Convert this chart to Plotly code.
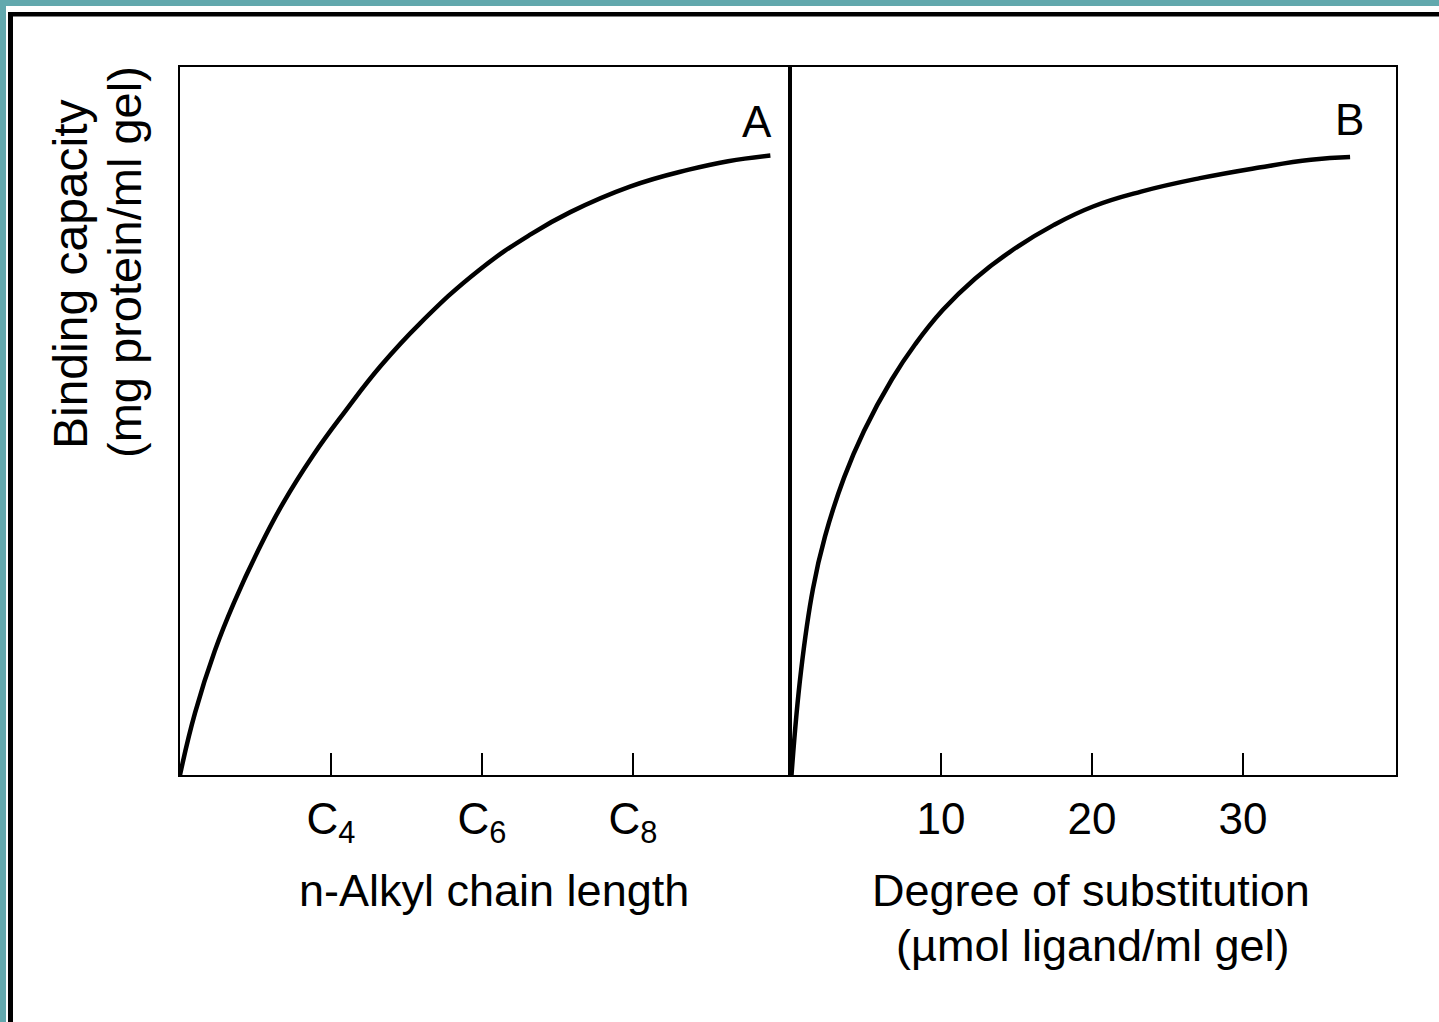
import plotly.graph_objects as go

# Panel A: binding capacity vs n-alkyl chain length (carbon number)
chain_length = [2.0, 2.2, 2.46, 2.73, 3.03, 3.36, 3.76, 4.19, 4.66, 5.18,
                5.96, 6.65, 7.17, 7.96, 8.74, 9.26, 9.82]
capacity_a = [0.0, 8.8, 17.5, 24.7, 31.6, 38.3, 45.1, 51.4, 57.8, 63.8,
              71.3, 76.4, 79.5, 83.1, 85.5, 86.7, 87.5]

# Panel B: binding capacity vs degree of substitution (umol ligand/ml gel)
substitution = [0.1, 0.73, 1.52, 2.32, 3.58, 4.9, 6.75, 8.28, 10.13, 12.25,
                14.57, 17.48, 20.07, 23.25, 27.15, 31.06, 34.5, 37.09]
capacity_b = [0.0, 14.7, 26.3, 33.7, 42.0, 48.6, 55.9, 60.8, 65.7, 70.1,
              73.9, 77.7, 80.3, 82.4, 84.3, 85.8, 86.9, 87.3]

chain_ticks = [4, 6, 8]
chain_tick_labels = ["C<sub>4</sub>", "C<sub>6</sub>", "C<sub>8</sub>"]
subst_ticks = [10, 20, 30]
subst_tick_labels = ["10", "20", "30"]

W, H = 1439, 1022
FONT = "Liberation Sans, Arial, Helvetica, sans-serif"


def px_x(v):
    return v / W


def px_y(v):
    return 1 - v / H


fig = go.Figure()
fig.add_trace(go.Scatter(x=chain_length, y=capacity_a, mode="lines",
                         line=dict(color="black", width=4.5, shape="spline", smoothing=1.3),
                         xaxis="x", yaxis="y", showlegend=False))
fig.add_trace(go.Scatter(x=substitution, y=capacity_b, mode="lines",
                         line=dict(color="black", width=4.5, shape="spline", smoothing=1.3),
                         xaxis="x2", yaxis="y2", showlegend=False))

axis_common = dict(showline=True, linecolor="black", linewidth=2, mirror=True,
                   showgrid=False, zeroline=False, ticks="inside", ticklen=22,
                   tickwidth=1.5, tickcolor="black",
                   tickfont=dict(family=FONT, size=44, color="black"))
yaxis_common = dict(showline=True, linecolor="black", linewidth=2, mirror=True,
                    showgrid=False, zeroline=False, ticks="", showticklabels=False,
                    range=[0, 100], domain=[px_y(775), px_y(67)])

fig.update_layout(
    width=W, height=H,
    margin=dict(l=0, r=0, t=0, b=0),
    paper_bgcolor="white", plot_bgcolor="white",
    xaxis=dict(axis_common, domain=[px_x(180), px_x(790)], range=[2, 10.08],
               tickvals=chain_ticks, ticktext=chain_tick_labels,
               ticklabelstandoff=4),
    xaxis2=dict(axis_common, domain=[px_x(790), px_x(1396)], range=[0, 40.13],
                tickvals=subst_ticks, ticktext=subst_tick_labels,
                anchor="y2", ticklabelstandoff=4),
    yaxis=dict(yaxis_common, anchor="x"),
    yaxis2=dict(yaxis_common, anchor="x2"),
)

# Slide-style frame: teal band and black rule along top and left edges
teal = "#62A8AD"
shapes = [
    dict(type="rect", xref="paper", yref="paper", x0=0, x1=1, y0=px_y(6), y1=1,
         fillcolor=teal, line_width=0, layer="above"),
    dict(type="rect", xref="paper", yref="paper", x0=0, x1=px_x(6), y0=0, y1=1,
         fillcolor=teal, line_width=0, layer="above"),
    dict(type="rect", xref="paper", yref="paper", x0=px_x(8), x1=1,
         y0=px_y(16.5), y1=px_y(12), fillcolor="black", line_width=0, layer="above"),
    dict(type="rect", xref="paper", yref="paper", x0=px_x(8), x1=px_x(13),
         y0=0, y1=px_y(12), fillcolor="black", line_width=0, layer="above"),
]
fig.update_layout(shapes=shapes)


def label(text, x, y, size=45, angle=0):
    fig.add_annotation(text=text, xref="paper", yref="paper", x=px_x(x), y=px_y(y),
                       xanchor="center", yanchor="middle", showarrow=False,
                       textangle=angle, font=dict(family=FONT, size=size, color="black"))


label("Binding capacity", 71, 274, size=48, angle=-90)
label("(mg protein/ml gel)", 124, 262, size=47, angle=-90)
label("n-Alkyl chain length", 494, 890)
label("Degree of substitution", 1091, 890)
label("(µmol ligand/ml gel)", 1093, 945)
label("A", 757, 122, size=44)
label("B", 1349, 119, size=44)

fig.write_html("out.html")
